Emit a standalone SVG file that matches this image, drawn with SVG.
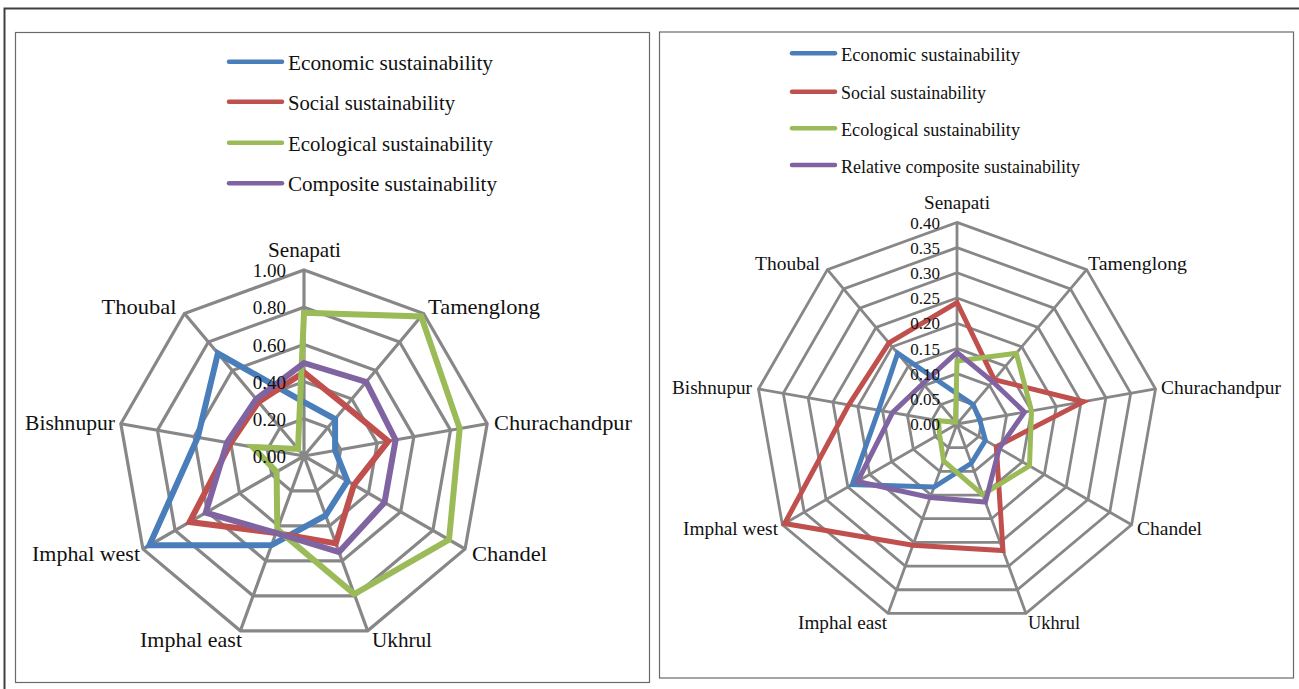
<svg xmlns="http://www.w3.org/2000/svg" xmlns:xlink="http://www.w3.org/1999/xlink" width="1299" height="689" viewBox="0 0 1299 689">
<style>
  .frame{fill:none;stroke:#404040;stroke-width:2}
  .box{fill:#fff;stroke:#6a6a6a;stroke-width:1.2}
  .gridL{fill:none;stroke:#878787;stroke-width:3.2}
  .gridR{fill:none;stroke:#878787;stroke-width:2.8}
  .lbl{font-family:"Liberation Serif","Times New Roman",serif;fill:#111}
  .lblL{font-size:21px}
  .lblR{font-size:18px}
  .tickL{font-family:"Liberation Serif","Times New Roman",serif;font-size:19px;fill:#111;text-anchor:end}
  .tickR{font-family:"Liberation Serif","Times New Roman",serif;font-size:17px;fill:#111;text-anchor:end}
  .ser{fill:none;stroke-linejoin:miter;stroke-miterlimit:3}
  .sL{stroke-width:6}
  .sR{stroke-width:5}
  .leg{stroke-width:4.5;stroke-linecap:round}
  .eco{stroke:#4a7ebb}
  .soc{stroke:#c0504d}
  .ecl{stroke:#9bbb59}
  .com{stroke:#8064a2}
</style>
<defs>
  <polygon id="ringL" points="0,-186 119.56,-142.48 183.17,-32.29 161.08,93 63.61,174.78 -63.61,174.78 -161.08,93 -183.17,-32.29 -119.56,-142.48" fill="none" stroke="#878787" stroke-width="3.2" vector-effect="non-scaling-stroke"/>
  <polygon id="ringR" points="0,-201.6 129.59,-154.43 198.54,-35.01 174.59,100.8 68.95,189.44 -68.95,189.44 -174.59,100.8 -198.54,-35.01 -129.59,-154.43" fill="none" stroke="#878787" stroke-width="2.8" vector-effect="non-scaling-stroke"/>
</defs>
<rect width="1299" height="689" fill="#fff"/>
<rect class="frame" x="4.5" y="8.5" width="1310" height="700"/>

<!-- LEFT CHART -->
<g id="chart-left">
  <rect class="box" x="15.5" y="32.5" width="634" height="650"/>
  <g id="legend-left">
    <g id="legL-eco"><line class="leg eco" x1="229" y1="61.7" x2="282" y2="61.7"/><text class="lbl lblL" x="288" y="69.5" textLength="205" lengthAdjust="spacingAndGlyphs">Economic sustainability</text></g>
    <g id="legL-soc"><line class="leg soc" x1="229" y1="101.7" x2="282" y2="101.7"/><text class="lbl lblL" x="288" y="109.5" textLength="167" lengthAdjust="spacingAndGlyphs">Social sustainability</text></g>
    <g id="legL-ecl"><line class="leg ecl" x1="229" y1="142.7" x2="282" y2="142.7"/><text class="lbl lblL" x="288" y="150.5" textLength="205" lengthAdjust="spacingAndGlyphs">Ecological sustainability</text></g>
    <g id="legL-com"><line class="leg com" x1="229" y1="183.3" x2="282" y2="183.3"/><text class="lbl lblL" x="288" y="191" textLength="209" lengthAdjust="spacingAndGlyphs">Composite sustainability</text></g>
  </g>
  <g id="gridL" transform="translate(304,456)">
    <use xlink:href="#ringL" transform="scale(0.2)"/>
    <use xlink:href="#ringL" transform="scale(0.4)"/>
    <use xlink:href="#ringL" transform="scale(0.6)"/>
    <use xlink:href="#ringL" transform="scale(0.8)"/>
    <use xlink:href="#ringL"/>
    <path class="gridL" d="M0,0L0,-186M0,0L119.56,-142.48M0,0L183.17,-32.29M0,0L161.08,93M0,0L63.61,174.78M0,0L-63.61,174.78M0,0L-161.08,93M0,0L-183.17,-32.29M0,0L-119.56,-142.48"/>
  </g>
  <g id="seriesL" transform="translate(304,456)">
    <polygon id="L-economic" class="ser sL eco" points="0,-53.9 31.1,-37 31.1,-5.5 43.5,25.1 21.6,59.4 -32.4,89.1 -154.6,89.3 -106.2,-18.7 -86.1,-102.6"/>
    <polygon id="L-social" class="ser sL soc" points="0,-83.7 41.8,-49.9 84.3,-14.9 49.9,28.8 31.8,87.4 -28,76.9 -114.4,66 -73.3,-12.9 -45.4,-54.1"/>
    <polygon id="L-ecological" class="ser sL ecl" points="0,-143.2 117.2,-139.6 155.7,-27.4 145,83.7 50.3,138.1 -26.7,73.4 -27.4,15.8 -51.3,-9 -6,-7.1"/>
    <polygon id="L-composite" class="ser sL com" points="0,-93 62.2,-74.1 91.6,-16.1 80.5,46.5 35,96.1 -28,76.9 -98.3,56.7 -76.9,-13.6 -47.8,-57"/>
  </g>
  <g id="ticksL">
    <text class="tickL" x="286" y="277">1.00</text>
    <text class="tickL" x="286" y="314">0.80</text>
    <text class="tickL" x="286" y="351.5">0.60</text>
    <text class="tickL" x="286" y="388.5">0.40</text>
    <text class="tickL" x="286" y="425.5">0.20</text>
    <text class="tickL" x="286" y="462.5">0.00</text>
  </g>
  <g id="axisL">
    <g id="L-senapati"><text class="lbl lblL" x="268" y="257" textLength="73" lengthAdjust="spacingAndGlyphs">Senapati</text></g>
    <g id="L-tamenglong"><text class="lbl lblL" x="428" y="313.5" textLength="112" lengthAdjust="spacingAndGlyphs">Tamenglong</text></g>
    <g id="L-churachandpur"><text class="lbl lblL" x="494" y="429.5" textLength="138" lengthAdjust="spacingAndGlyphs">Churachandpur</text></g>
    <g id="L-chandel"><text class="lbl lblL" x="472" y="561" textLength="75" lengthAdjust="spacingAndGlyphs">Chandel</text></g>
    <g id="L-ukhrul"><text class="lbl lblL" x="372" y="647" textLength="60" lengthAdjust="spacingAndGlyphs">Ukhrul</text></g>
    <g id="L-imphaleast"><text class="lbl lblL" x="140" y="647" textLength="102" lengthAdjust="spacingAndGlyphs">Imphal east</text></g>
    <g id="L-imphalwest"><text class="lbl lblL" x="32" y="561" textLength="108" lengthAdjust="spacingAndGlyphs">Imphal west</text></g>
    <g id="L-bishnupur"><text class="lbl lblL" x="25" y="429.5" textLength="90" lengthAdjust="spacingAndGlyphs">Bishnupur</text></g>
    <g id="L-thoubal"><text class="lbl lblL" x="101.5" y="313.5" textLength="75" lengthAdjust="spacingAndGlyphs">Thoubal</text></g>
  </g>
</g>

<!-- RIGHT CHART -->
<g id="chart-right">
  <rect class="box" x="659.5" y="32" width="634" height="646"/>
  <g id="legend-right">
    <g id="legR-eco"><line class="leg eco" x1="792" y1="53.3" x2="835" y2="53.3"/><text class="lbl lblR" x="841" y="61" textLength="179" lengthAdjust="spacingAndGlyphs">Economic sustainability</text></g>
    <g id="legR-soc"><line class="leg soc" x1="792" y1="91.7" x2="835" y2="91.7"/><text class="lbl lblR" x="841" y="99" textLength="145" lengthAdjust="spacingAndGlyphs">Social sustainability</text></g>
    <g id="legR-ecl"><line class="leg ecl" x1="792" y1="128.3" x2="835" y2="128.3"/><text class="lbl lblR" x="841" y="136" textLength="179" lengthAdjust="spacingAndGlyphs">Ecological sustainability</text></g>
    <g id="legR-com"><line class="leg com" x1="792" y1="165" x2="835" y2="165"/><text class="lbl lblR" x="841" y="172.5" textLength="239" lengthAdjust="spacingAndGlyphs">Relative composite sustainability</text></g>
  </g>
  <g id="gridR" transform="translate(957,424)">
    <use xlink:href="#ringR" transform="scale(0.125)"/>
    <use xlink:href="#ringR" transform="scale(0.25)"/>
    <use xlink:href="#ringR" transform="scale(0.375)"/>
    <use xlink:href="#ringR" transform="scale(0.5)"/>
    <use xlink:href="#ringR" transform="scale(0.625)"/>
    <use xlink:href="#ringR" transform="scale(0.75)"/>
    <use xlink:href="#ringR" transform="scale(0.875)"/>
    <use xlink:href="#ringR"/>
    <path class="gridR" d="M0,0L0,-201.6M0,0L129.59,-154.43M0,0L198.54,-35.01M0,0L174.59,100.8M0,0L68.95,189.44M0,0L-68.95,189.44M0,0L-174.59,100.8M0,0L-198.54,-35.01M0,0L-129.59,-154.43"/>
  </g>
  <g id="seriesR" transform="translate(957,424)">
    <polygon id="R-economic" class="ser sR eco" points="0,-30.2 16.2,-19.3 22.8,-4 28.4,16.4 14.3,39.3 -22.9,63 -104.8,60.5 -78.4,-13.8 -59.3,-70.7"/>
    <polygon id="R-social" class="ser sR soc" points="0,-121.5 37.3,-44.4 126.6,-22.3 39.3,22.7 46,126.5 -44.1,121.2 -172.4,99.5 -108.2,-19.1 -68,-81.1"/>
    <polygon id="R-ecological" class="ser sR ecl" points="0,-63 59.3,-70.7 74.5,-13.1 72.5,41.8 25.7,70.6 -13.4,36.9 -17.5,10.1 -18.4,-3.2 -1.6,-1.9"/>
    <polygon id="R-composite" class="ser sR com" points="0,-71.6 35.6,-42.5 67.5,-11.9 42.3,24.4 28.4,78.1 -26.7,73.4 -99.5,57.5 -64.5,-11.4 -34,-40.5"/>
  </g>
  <g id="ticksR">
    <text class="tickR" x="940" y="228.5">0.40</text>
    <text class="tickR" x="940" y="253.7">0.35</text>
    <text class="tickR" x="940" y="278.9">0.30</text>
    <text class="tickR" x="940" y="304.1">0.25</text>
    <text class="tickR" x="940" y="329.3">0.20</text>
    <text class="tickR" x="940" y="354.5">0.15</text>
    <text class="tickR" x="940" y="379.7">0.10</text>
    <text class="tickR" x="940" y="404.9">0.05</text>
    <text class="tickR" x="940" y="430.1">0.00</text>
  </g>
  <g id="axisR">
    <g id="R-senapati"><text class="lbl lblR" x="924" y="209" textLength="66" lengthAdjust="spacingAndGlyphs">Senapati</text></g>
    <g id="R-tamenglong"><text class="lbl lblR" x="1088" y="270" textLength="99" lengthAdjust="spacingAndGlyphs">Tamenglong</text></g>
    <g id="R-churachandpur"><text class="lbl lblR" x="1161" y="393.5" textLength="120" lengthAdjust="spacingAndGlyphs">Churachandpur</text></g>
    <g id="R-chandel"><text class="lbl lblR" x="1137" y="535" textLength="65" lengthAdjust="spacingAndGlyphs">Chandel</text></g>
    <g id="R-ukhrul"><text class="lbl lblR" x="1028" y="628.5" textLength="52" lengthAdjust="spacingAndGlyphs">Ukhrul</text></g>
    <g id="R-imphaleast"><text class="lbl lblR" x="798" y="628.5" textLength="89" lengthAdjust="spacingAndGlyphs">Imphal east</text></g>
    <g id="R-imphalwest"><text class="lbl lblR" x="683" y="535" textLength="95" lengthAdjust="spacingAndGlyphs">Imphal west</text></g>
    <g id="R-bishnupur"><text class="lbl lblR" x="672" y="393.5" textLength="80" lengthAdjust="spacingAndGlyphs">Bishnupur</text></g>
    <g id="R-thoubal"><text class="lbl lblR" x="755" y="270" textLength="65" lengthAdjust="spacingAndGlyphs">Thoubal</text></g>
  </g>
</g>
</svg>
